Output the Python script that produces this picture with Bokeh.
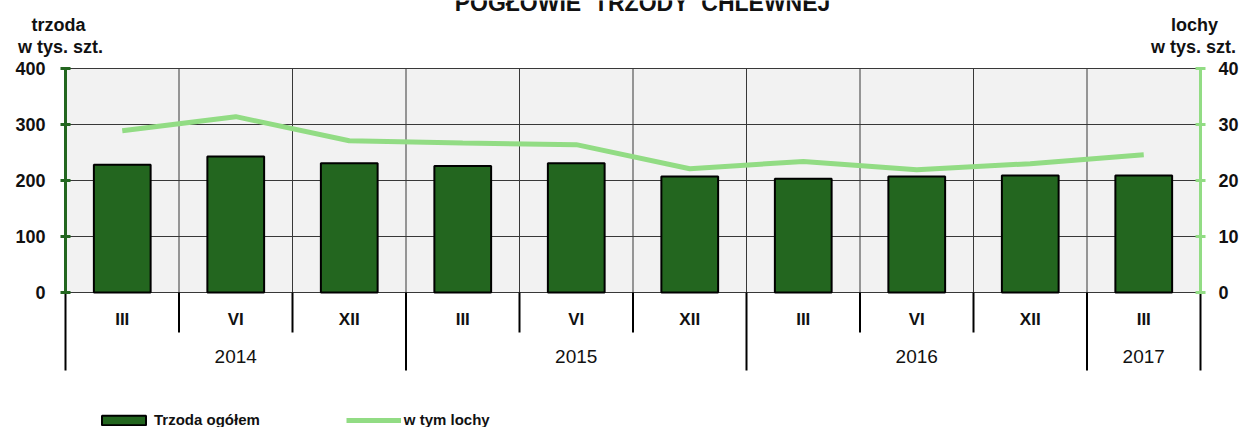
from bokeh.plotting import figure
from bokeh.models import (Range1d, LinearAxis, FixedTicker, BoxAnnotation, Label,
                          Legend, LegendItem)
from bokeh.core.properties import value
from bokeh.embed import file_html
from bokeh.resources import INLINE

# ---- data ----
months = ["III", "VI", "XII", "III", "VI", "XII", "III", "VI", "XII", "III"]
years = ["2014", "2015", "2016", "2017"]
year_spans = [3, 3, 3, 1]
pigs = [228, 243, 231, 226, 231, 207, 203, 207, 209, 209]            # trzoda ogółem (tys. szt.)
sows = [28.9, 31.4, 27.1, 26.7, 26.4, 22.1, 23.4, 21.9, 23.0, 24.6]  # w tym lochy (tys. szt.)
left_ticks = [0, 100, 200, 300, 400]
right_ticks = [0, 10, 20, 30, 40]

# ---- layout constants (pixels) ----
W, H = 1244, 427
PX_LEFT, PX_RIGHT = 65, 1200      # plot area left / right edge
PX_TOP, PX_ZERO = 68, 292         # plot area top (400) / baseline (0)

FONT = "Liberation Sans"
DARK = "#23661f"
LIGHT = "#92dc84"
GRID = "#383838"
TXT = "#111111"

n = len(months)
ymax = left_ticks[-1]
rmax = right_ticks[-1]
xs = [i + 0.5 for i in range(n)]
bounds = [0]
for s in year_spans:
    bounds.append(bounds[-1] + s)
year_centers = [(bounds[i] + bounds[i + 1]) / 2 for i in range(len(years))]
year_bounds = bounds
month_bounds = [b for b in range(1, n) if b not in year_bounds]

# the frame covers the whole canvas; ranges chosen so the plot area lands on the pixels above
sx = (PX_RIGHT - PX_LEFT) / n
sy = (PX_ZERO - PX_TOP) / ymax
x0 = -PX_LEFT / sx
x1 = (W - PX_LEFT) / sx
y1 = PX_ZERO / sy
y0 = -(H - PX_ZERO) / sy


def ydata(px):
    return (PX_ZERO - px) / sy


def xdata(px):
    return (px - PX_LEFT) / sx


p = figure(width=W, height=H, output_backend="svg", toolbar_location=None,
           x_range=Range1d(x0, x1), y_range=Range1d(y0, y1),
           x_axis_location=None, y_axis_location=None,
           min_border=0, min_border_left=0, min_border_right=0,
           min_border_top=0, min_border_bottom=0)
p.extra_y_ranges = {"right": Range1d(y0 * rmax / ymax, y1 * rmax / ymax)}
p.outline_line_color = None
p.background_fill_color = "white"
p.border_fill_color = "white"

# plot area background
p.add_layout(BoxAnnotation(left=0, right=n, bottom=0, top=ymax, fill_color="#f2f2f2",
                           fill_alpha=1, line_color=None, level="image"))

# grids
p.xgrid.visible = False
p.ygrid.visible = False
p.segment(x0=[0] * len(left_ticks), y0=left_ticks, x1=[n] * len(left_ticks), y1=left_ticks,
          line_color=GRID, line_width=1)
p.segment(x0=list(range(1, n)), y0=[0] * (n - 1), x1=list(range(1, n)), y1=[ymax] * (n - 1),
          line_color=GRID, line_width=1)

# category separators below the axis
p.segment(x0=month_bounds, y0=[0] * len(month_bounds), x1=month_bounds,
          y1=[ydata(332)] * len(month_bounds), line_color="black", line_width=2)
p.segment(x0=year_bounds, y0=[0] * len(year_bounds), x1=year_bounds,
          y1=[ydata(370)] * len(year_bounds), line_color="black", line_width=2)

# bars and line
bars = p.vbar(x=xs, top=pigs, width=0.5, fill_color=DARK, line_color="black", line_width=2)
ln = p.line(x=xs, y=sows, y_range_name="right", line_color=LIGHT, line_width=5)

# category labels
p.text(x=xs, y=[ydata(319)] * n, text=months, text_font=value(FONT), text_font_size="17px",
       text_font_style="bold", text_align="center", text_baseline="middle", text_color=TXT)
p.text(x=year_centers, y=[ydata(356)] * len(years), text=years, text_font=value(FONT),
       text_font_size="19px", text_align="center", text_baseline="middle", text_color=TXT)

# axes
def style_axis(ax, color, standoff):
    ax.axis_line_color = color
    ax.axis_line_width = 3
    ax.major_tick_line_color = color
    ax.major_tick_line_width = 3
    ax.major_tick_in = 5
    ax.major_tick_out = 5
    ax.minor_tick_line_color = None
    ax.major_label_standoff = standoff
    ax.major_label_text_font = FONT
    ax.major_label_text_font_size = "18px"
    ax.major_label_text_font_style = "bold"
    ax.major_label_text_color = TXT


la = LinearAxis(bounds=(0, ymax), ticker=FixedTicker(ticks=left_ticks), fixed_location=0)
style_axis(la, DARK, 15)
p.add_layout(la, "left")

ra = LinearAxis(y_range_name="right", bounds=(0, rmax), ticker=FixedTicker(ticks=right_ticks),
                fixed_location=n)
style_axis(ra, LIGHT, 13)
p.add_layout(ra, "right")

# texts
def lab(xpx, ypx, t, size="18px", style="bold"):
    p.add_layout(Label(x=xdata(xpx), y=ydata(ypx), text=t, text_font=FONT, text_font_size=size,
                       text_font_style=style, text_align="center", text_baseline="alphabetic",
                       text_color=TXT))


lab(642, 2, "POGŁOWIE\u00a0\u00a0TRZODY\u00a0\u00a0CHLEWNEJ", size="23px")
lab(58, 24, "trzoda")
lab(60, 46, "w tys. szt.")
lab(1194, 24, "lochy")
lab(1193, 46, "w tys. szt.")

# legend
legend = Legend(items=[LegendItem(label="Trzoda ogółem", renderers=[bars]),
                       LegendItem(label="w tym lochy", renderers=[ln])],
                location=(96, -1), orientation="horizontal",
                glyph_width=55, glyph_height=12, label_standoff=3, spacing=86,
                padding=0, margin=0, border_line_color=None, background_fill_alpha=0,
                label_text_font=FONT, label_text_font_size="15px",
                label_text_font_style="bold", label_text_color=TXT)
p.add_layout(legend, "center")

open("out.html", "w").write(file_html(p, INLINE))
